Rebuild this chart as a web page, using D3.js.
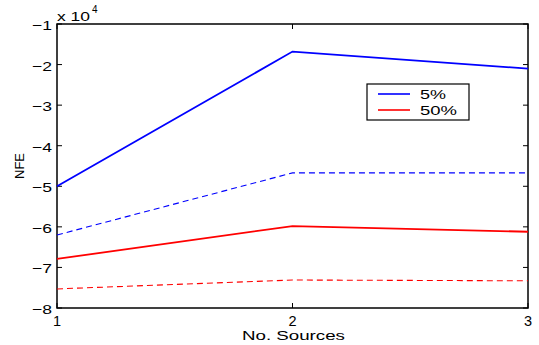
<!DOCTYPE html>
<html>
<head>
<meta charset="utf-8">
<script src="https://d3js.org/d3.v7.min.js"></script>
<style>
  body { margin: 0; background: #fff; }
  text { font-family: "Liberation Sans", Arial, sans-serif; }
</style>
</head>
<body>
<div id="chart"></div>
<script>
// data (values in units of 10^4)
var sources = [1, 2, 3];
var blue_solid = [-5.0, -1.68, -2.1];
var blue_dash = [-6.2, -4.67, -4.67];
var red_solid = [-6.79, -5.98, -6.12];
var red_dash = [-7.53, -7.31, -7.33];
var y_ticks = [-1, -2, -3, -4, -5, -6, -7, -8];
var legend_labels = ['5%', '50%'];

const W = 539, H = 345;
const ax_left = 57, ax_right = 528, ax_top = 24, ax_bottom = 308;

var svg = d3.select('#chart').append('svg')
  .attr('width', W).attr('height', H);

var x = d3.scaleLinear().domain([1, 3]).range([ax_left, ax_right]);
var y = d3.scaleLinear().domain([-8, -1]).range([ax_bottom, ax_top]);

// axis box
svg.append('rect').attr('x', ax_left).attr('y', ax_top)
  .attr('width', ax_right - ax_left).attr('height', ax_bottom - ax_top)
  .attr('fill', 'none').attr('stroke', 'black').attr('stroke-width', 1.5);

// y ticks inside, both sides (labels look stretched sideways in the original)
y_ticks.forEach(function(t){
  svg.append('line').attr('x1', ax_left).attr('x2', ax_left + 5)
    .attr('y1', y(t)).attr('y2', y(t)).attr('stroke', 'black');
  svg.append('line').attr('x1', ax_right).attr('x2', ax_right - 5)
    .attr('y1', y(t)).attr('y2', y(t)).attr('stroke', 'black');
  svg.append('text').attr('x', ax_left - 25).attr('y', y(t) + 6)
    .attr('font-size', 13)
    .attr('textLength', 20).attr('lengthAdjust', 'spacingAndGlyphs')
    .text('\u2212' + Math.abs(t));
});

// x ticks
sources.forEach(function(s){
  svg.append('line').attr('x1', x(s)).attr('x2', x(s))
    .attr('y1', ax_bottom).attr('y2', ax_bottom - 5).attr('stroke', 'black');
  svg.append('line').attr('x1', x(s)).attr('x2', x(s))
    .attr('y1', ax_top).attr('y2', ax_top + 5).attr('stroke', 'black');
  svg.append('text').attr('x', x(s)).attr('y', ax_bottom + 18)
    .attr('text-anchor', 'middle').attr('font-size', 14.5)
    .text(s);
});

// exponent label
svg.append('text').attr('x', ax_left).attr('y', 21).attr('font-size', 13)
  .attr('textLength', 33).attr('lengthAdjust', 'spacingAndGlyphs')
  .text('x 10');
svg.append('text').attr('x', ax_left + 35).attr('y', 13).attr('font-size', 10)
  .text('4');

// axis labels
svg.append('text').attr('x', 242).attr('y', 340)
  .attr('font-size', 13)
  .attr('textLength', 103).attr('lengthAdjust', 'spacingAndGlyphs')
  .text('No. Sources');
svg.append('text').attr('transform', 'translate(23.5,179) rotate(-90)')
  .attr('font-size', 13.5)
  .attr('textLength', 26).attr('lengthAdjust', 'spacingAndGlyphs')
  .text('NFE');

// lines
var line = d3.line().x(function(d, i){ return x(sources[i]); }).y(function(d){ return y(d); });
var series = [
  {v: blue_solid, c: '#0000ff', dash: null},
  {v: blue_dash, c: '#0000ff', dash: '6,4'},
  {v: red_solid, c: '#ff0000', dash: null},
  {v: red_dash, c: '#ff0000', dash: '6,4'}
];
series.forEach(function(s){
  svg.append('path').attr('d', line(s.v)).attr('fill', 'none')
    .attr('stroke', s.c).attr('stroke-width', s.dash ? 1.1 : 1.8)
    .attr('stroke-dasharray', s.dash);
});

// legend
svg.append('rect').attr('x', 367).attr('y', 84).attr('width', 102).attr('height', 36)
  .attr('fill', 'white').attr('stroke', 'black').attr('stroke-width', 1.2);
['#0000ff', '#ff0000'].forEach(function(c, i){
  var ly = 94 + i * 16;
  svg.append('line').attr('x1', 378).attr('x2', 410).attr('y1', ly).attr('y2', ly)
    .attr('stroke', c).attr('stroke-width', 1.6);
  svg.append('text').attr('x', 420).attr('y', ly + 5).attr('font-size', 13)
    .attr('textLength', i == 0 ? 26 : 37).attr('lengthAdjust', 'spacingAndGlyphs')
    .text(legend_labels[i]);
});
</script>
</body>
</html>
